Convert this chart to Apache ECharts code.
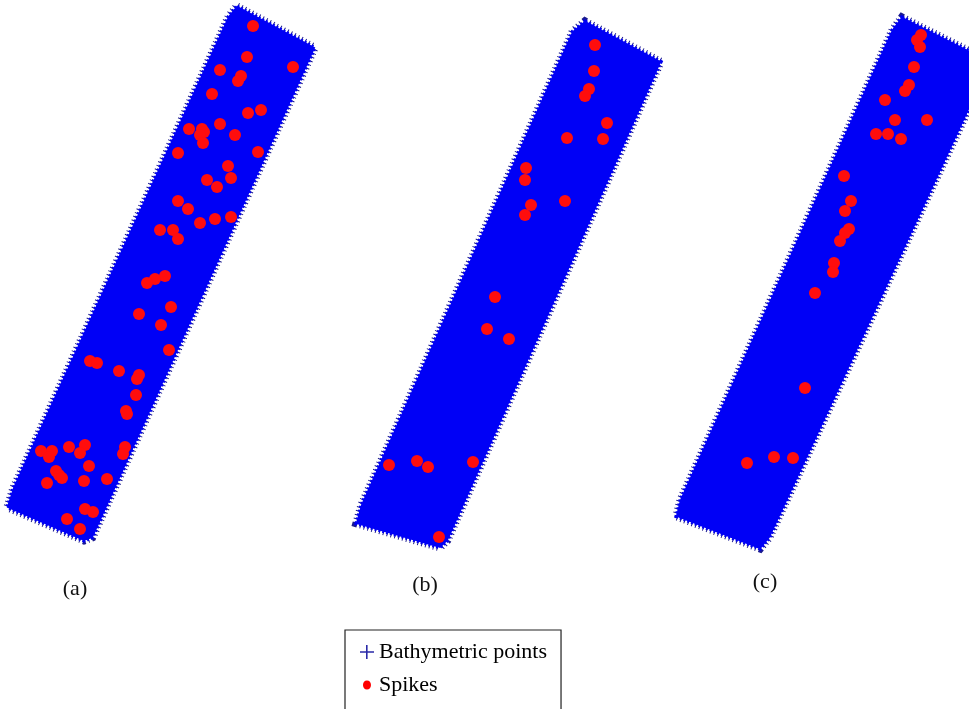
<!DOCTYPE html>
<html>
<head>
<meta charset="utf-8">
<script src="https://cdn.jsdelivr.net/npm/echarts@6/dist/echarts.min.js"></script>
<style>
  html, body { margin: 0; padding: 0; background: #fff; }
  #main { width: 969px; height: 709px; }
</style>
</head>
<body>
<div id="main"></div>
<script>
// outline of each survey strip (image units, y down)
var stripA = [[237, 7], [314, 48], [92, 537], [84, 540], [8, 507], [14, 488], [229, 17]];
var stripB = [[585, 22], [660, 62], [447, 540], [440, 547], [357, 523], [362, 505], [573, 32]];
var stripC = [[902, 18], [990, 62], [769, 537], [760, 548], [677, 516], [681, 500], [893, 30]];

// detected spikes
var spikesA = [
  [253, 26], [247, 57], [293, 67], [220, 70], [241, 76], [238, 81], [212, 94],
  [248, 113], [261, 110], [220, 124], [189, 129], [202, 129], [204, 132], [200, 135],
  [203, 143], [235, 135], [178, 153], [258, 152], [228, 166], [231, 178], [207, 180],
  [217, 187], [178, 201], [188, 209], [200, 223], [215, 219], [231, 217], [160, 230],
  [173, 230], [178, 239], [165, 276], [155, 279], [147, 283], [171, 307], [139, 314],
  [161, 325], [169, 350], [90, 361], [97, 363], [119, 371], [139, 375], [137, 379],
  [136, 395], [126, 411], [127, 414], [69, 447], [85, 445], [80, 453], [125, 447],
  [123, 454], [41, 451], [52, 451], [49, 457], [56, 471], [59, 475], [62, 478],
  [89, 466], [47, 483], [84, 481], [107, 479], [85, 509], [93, 512], [67, 519], [80, 529]
];
var spikesB = [
  [595, 45], [594, 71], [589, 89], [585, 96], [607, 123], [603, 139], [567, 138],
  [526, 168], [525, 180], [565, 201], [531, 205], [525, 215], [495, 297], [487, 329],
  [509, 339], [389, 465], [417, 461], [428, 467], [473, 462], [439, 537]
];
var spikesC = [
  [921, 35], [917, 40], [920, 47], [914, 67], [909, 85], [905, 91], [885, 100],
  [895, 120], [927, 120], [876, 134], [888, 134], [901, 139], [844, 176], [851, 201],
  [845, 211], [849, 229], [845, 233], [840, 241], [834, 263], [833, 272], [815, 293],
  [805, 388], [747, 463], [774, 457], [793, 458]
];

var panelLabels = ['(a)', '(b)', '(c)'];
var labelPos = [[75, 589], [425, 585], [765, 582]];

var chart = echarts.init(document.getElementById('main'));

function stripSeries(corners) {
  return {
    name: 'Bathymetric points',
    type: 'custom',
    coordinateSystem: 'cartesian2d',
    silent: true,
    data: corners,
    renderItem: function(params, api) {
      if (params.dataIndex !== 0) {
        return null;
      }
      var pts = corners.map(function(p) { return api.coord(p); });
      // ragged rim made of short dark ticks, then the solid blue body
      return {
        type: 'group',
        children: [{
          type: 'polygon',
          shape: { points: pts },
          style: { fill: 'none', stroke: '#1a1a90', lineWidth: 9, lineDash: [1, 3] }
        }, {
          type: 'polygon',
          shape: { points: pts },
          style: { fill: 'none', stroke: '#0000f0', lineWidth: 5, lineDash: [2, 2] }
        }, {
          type: 'polygon',
          shape: { points: pts },
          style: { fill: '#0000f6', stroke: '#0000f6', lineWidth: 2 }
        }]
      };
    }
  };
}

function spikeSeries(data) {
  return {
    name: 'Spikes',
    type: 'scatter',
    symbol: 'circle',
    symbolSize: 12,
    silent: true,
    itemStyle: { color: '#ff0d0d', opacity: 1 },
    data: data,
    z: 5
  };
}

var option = {
  animation: false,
  backgroundColor: '#fff',
  grid: { left: 0, right: 0, top: 0, bottom: 0 },
  xAxis: { type: 'value', min: 0, max: 969, show: false },
  yAxis: { type: 'value', min: 0, max: 709, inverse: true, show: false },
  legend: {
    orient: 'vertical',
    left: 345,
    top: 630,
    height: 160,
    padding: [11, 14, 30, 15],
    itemGap: 11,
    itemWidth: 14,
    itemHeight: 14,
    borderColor: '#222',
    borderWidth: 1.2,
    borderRadius: 0,
    textStyle: { fontFamily: 'Liberation Serif', fontSize: 22, color: '#000' },
    data: [
      {
        name: 'Bathymetric points',
        icon: 'path://M6,0h1.6v6.2h6.4v1.6h-6.4v6.2h-1.6v-6.2h-6v-1.6h6z',
        itemStyle: { color: '#2a2aa8' }
      },
      {
        name: 'Spikes',
        icon: 'path://M0,0L0.01,0M14,14L14.01,14M7,2.5C9.5,2.5 11,4.5 11,7C11,9.5 9.5,11.5 7,11.5C4.5,11.5 3,9.5 3,7C3,4.5 4.5,2.5 7,2.5z',
        itemStyle: { color: '#ff0000' }
      }
    ]
  },
  graphic: panelLabels.map(function(t, i) {
    return {
      type: 'text',
      x: labelPos[i][0],
      y: labelPos[i][1],
      style: {
        text: t,
        fontFamily: 'Liberation Serif',
        fontSize: 22,
        fill: '#111',
        align: 'center',
        verticalAlign: 'middle'
      }
    };
  }),
  series: [
    stripSeries(stripA),
    stripSeries(stripB),
    stripSeries(stripC),
    spikeSeries(spikesA),
    spikeSeries(spikesB),
    spikeSeries(spikesC)
  ]
};

chart.setOption(option);
</script>
</body>
</html>
